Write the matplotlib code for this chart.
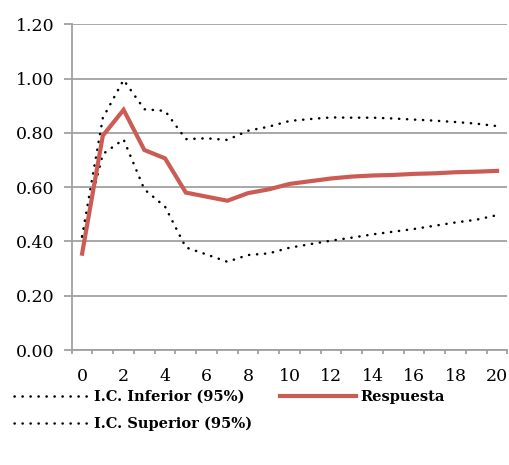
import matplotlib
matplotlib.use("Agg")
import matplotlib.pyplot as plt
import numpy as np
from matplotlib.ticker import FixedLocator, FixedFormatter

periods = list(range(21))
respuesta = [0.355, 0.79, 0.885, 0.737, 0.706, 0.580, 0.565, 0.550, 0.578, 0.592,
             0.612, 0.622, 0.632, 0.639, 0.643, 0.645, 0.649, 0.651, 0.655, 0.657, 0.660]
ic_superior = [0.418, 0.855, 0.995, 0.887, 0.881, 0.777, 0.780, 0.774, 0.808, 0.823,
               0.844, 0.851, 0.857, 0.856, 0.856, 0.853, 0.849, 0.845, 0.840, 0.834, 0.825]
ic_inferior = [0.418, 0.722, 0.776, 0.592, 0.528, 0.378, 0.352, 0.325, 0.350, 0.356,
               0.377, 0.390, 0.403, 0.414, 0.426, 0.436, 0.446, 0.458, 0.470, 0.480, 0.497]
y_ticks = [0.0, 0.2, 0.4, 0.6, 0.8, 1.0, 1.2]
x_labels = [str(v) for v in range(0, 21, 2)]

red = "#CD5B55"
grid_c = "#A0A0A0"
serif = ["DejaVu Serif"]

fig = plt.figure(figsize=(5.10, 4.65), dpi=100)
ax = fig.add_axes([0.1406, 0.2473, 0.995 - 0.1406, 0.9477 - 0.2473])

dots = (0, (0.1, 3.1))
l_inf, = ax.plot(periods, ic_inferior, color="black", lw=1.8, linestyle=dots,
                 dash_capstyle="round", label="I.C. Inferior (95%)", zorder=3)
l_sup, = ax.plot(periods, ic_superior, color="black", lw=1.8, linestyle=dots,
                 dash_capstyle="round", label="I.C. Superior (95%)", zorder=3)
l_res, = ax.plot(periods, respuesta, color=red, lw=3.0, solid_joinstyle="miter",
                 label="Respuesta", zorder=4)

ax.set_xlim(-0.5, 20.5)
ax.set_ylim(0, 1.2)
ax.set_yticks(y_ticks)
ax.set_yticklabels([f"{v:.2f}" for v in y_ticks], fontfamily=serif, fontsize=12.5)
ax.yaxis.grid(True, color=grid_c, lw=1.3)
ax.set_axisbelow(True)

ax.xaxis.set_major_locator(FixedLocator(list(range(0, 21, 2))))
ax.xaxis.set_major_formatter(FixedFormatter(x_labels))
ax.xaxis.set_minor_locator(FixedLocator(list(np.arange(-0.5, 21, 1.0))))
ax.tick_params(axis="x", which="major", length=0, pad=13, labelsize=12.5)
ax.tick_params(axis="x", which="minor", length=3, width=1.3, color=grid_c, direction="out")
ax.tick_params(axis="y", which="major", length=5.5, width=1.3, color=grid_c, pad=7)
for lab in ax.get_xticklabels():
    lab.set_fontfamily(serif)

for s in ["top", "right"]:
    ax.spines[s].set_visible(False)
for s in ["left", "bottom"]:
    ax.spines[s].set_color(grid_c)
    ax.spines[s].set_linewidth(1.3)

fig.legend(handles=[l_inf, l_sup, l_res], loc="upper left",
           bbox_to_anchor=(0.028, 0.162), ncol=2, frameon=False,
           prop={"family": serif, "weight": "bold", "size": 10.5},
           handlelength=5.2, handletextpad=0.3, columnspacing=1.9,
           labelspacing=0.9, borderaxespad=0, borderpad=0)

fig.savefig("out.png", dpi=100)
